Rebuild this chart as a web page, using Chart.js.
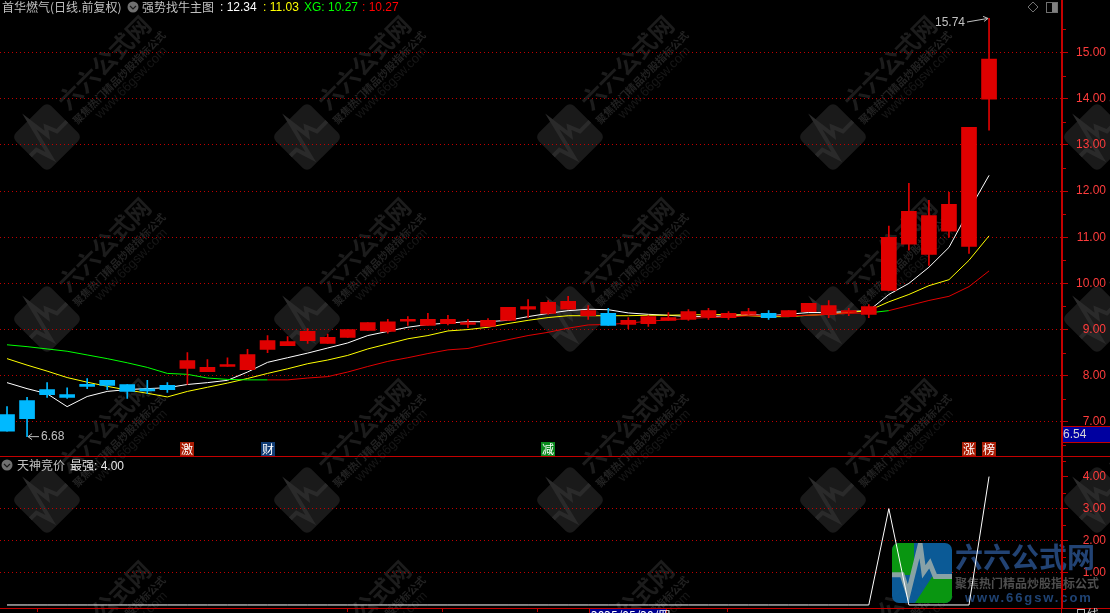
<!DOCTYPE html>
<html><head><meta charset="utf-8">
<style>
html,body{margin:0;padding:0;background:#000;width:1110px;height:613px;overflow:hidden}
#wrap{position:relative;width:1110px;height:613px}
canvas{position:absolute;left:0;top:0}
.t{position:absolute;white-space:nowrap;font:12px "Liberation Sans","Noto Sans CJK SC",sans-serif;line-height:14px}
.t span{font-family:"Noto Sans CJK SC",sans-serif}
</style>
<script src="https://cdn.jsdelivr.net/npm/chart.js@4/dist/chart.umd.min.js"></script>
</head><body><div id="wrap"><canvas id="c" width="1110" height="613"></canvas>
<div class="t" style="left:2px;top:0;color:#c0c0c0"><span>首华燃气(日线.前复权)</span></div>
<div class="t" style="left:142px;top:0;color:#c0c0c0"><span>强势找牛主图</span></div>
<div class="t" style="left:220px;top:0;color:#fff">:&nbsp;12.34</div>
<div class="t" style="left:263px;top:0;color:#ffff00">:&nbsp;11.03</div>
<div class="t" style="left:304px;top:0;color:#00ff00">XG:&nbsp;10.27</div>
<div class="t" style="left:362px;top:0;color:#ff0000">:&nbsp;10.27</div>
<div class="t" style="left:17px;top:458px;color:#c0c0c0"><span>天神竞价</span></div>
<div class="t" style="left:70px;top:458px;color:#e8e8e8"><span>最强</span>:&nbsp;4.00</div>
</div>
<script>
const idx = Array.from({length:50},(_,i)=>i);
const opens  = [7.16,7.46,7.70,7.59,7.81,7.90,7.81,7.70,7.79,8.16,8.09,8.20,8.13,8.57,8.65,8.76,8.70,8.83,8.98,8.96,9.18,9.09,9.13,9.11,9.07,9.20,9.44,9.35,9.44,9.30,9.35,9.11,9.13,9.20,9.22,9.28,9.26,9.33,9.35,9.28,9.39,9.33,9.37,9.33,9.85,10.85,10.63,11.13,10.80,13.99];
const closes = [6.80,7.07,7.59,7.53,7.77,7.79,7.66,7.67,7.70,8.33,8.18,8.24,8.46,8.76,8.74,8.96,8.83,9.00,9.15,9.17,9.21,9.22,9.22,9.15,9.20,9.48,9.50,9.59,9.61,9.41,9.09,9.20,9.28,9.26,9.39,9.41,9.35,9.39,9.26,9.41,9.57,9.52,9.38,9.50,11.00,11.56,11.47,11.71,13.38,14.86];
const highs  = [7.33,7.53,7.85,7.74,7.94,7.90,7.81,7.90,7.85,8.50,8.35,8.39,8.57,8.87,8.85,9.02,8.90,9.00,9.15,9.22,9.28,9.35,9.31,9.22,9.24,9.48,9.65,9.63,9.72,9.52,9.46,9.26,9.30,9.37,9.43,9.46,9.39,9.46,9.41,9.41,9.57,9.63,9.46,9.54,11.24,12.17,11.80,11.97,13.38,15.74];
const lows   = [6.80,6.68,7.53,7.51,7.72,7.70,7.51,7.61,7.64,7.81,8.09,8.20,8.13,8.50,8.65,8.70,8.70,8.83,8.98,8.92,9.09,9.09,9.10,9.04,9.07,9.20,9.26,9.33,9.44,9.22,9.09,9.02,9.07,9.20,9.20,9.22,9.22,9.33,9.22,9.28,9.39,9.26,9.30,9.26,9.85,10.72,10.39,11.00,10.65,13.32];
const whiteLine  = [7.85,7.72,7.61,7.33,7.55,7.66,7.70,7.72,7.74,7.81,7.85,7.90,8.08,8.29,8.39,8.49,8.60,8.71,8.87,8.96,9.05,9.11,9.14,9.17,9.17,9.20,9.28,9.35,9.41,9.44,9.43,9.36,9.33,9.31,9.28,9.28,9.30,9.33,9.30,9.33,9.37,9.37,9.39,9.41,9.76,10.00,10.35,10.78,11.58,12.34];
const yellowLine = [8.37,8.23,8.10,7.96,7.86,7.77,7.69,7.62,7.54,7.66,7.75,7.84,7.94,8.05,8.15,8.26,8.34,8.44,8.58,8.69,8.80,8.87,8.97,9.00,9.05,9.13,9.20,9.26,9.30,9.30,9.30,9.30,9.31,9.31,9.32,9.32,9.33,9.30,9.28,9.28,9.31,9.33,9.37,9.41,9.60,9.76,9.95,10.08,10.50,11.03];
const trendLine  = [8.67,8.63,8.58,8.53,8.45,8.37,8.28,8.18,8.05,8.03,7.95,7.92,7.91,7.91,7.91,7.95,7.98,8.08,8.20,8.31,8.39,8.48,8.56,8.59,8.69,8.78,8.87,8.94,9.03,9.10,9.11,9.14,9.18,9.21,9.24,9.26,9.27,9.30,9.30,9.30,9.31,9.33,9.35,9.36,9.41,9.52,9.63,9.72,9.93,10.27];
const trendGreenSegments = [0,1,2,3,4,5,6,7,8,9,10,11,12,43];
const strength = [0,0,0,0,0,0,0,0,0,0,0,0,0,0,0,0,0,0,0,0,0,0,0,0,0,0,0,0,0,0,0,0,0,0,0,0,0,0,0,0,0,0,0,0,3,0,0,0,0,4];
const mainTicks = [6.5,7,7.5,8,8.5,9,9.5,10,10.5,11,11.5,12,12.5,13,13.5,14,14.5,15,15.5];
const subTicks  = [0.5,1,1.5,2,2.5,3,3.5,4,4.5];
const signalIdx = [9,13,27,48,49];
const signalTxt = ['激','财','减','涨','榜'];
const signalCol = ['#a81c04','#103c74','#0a8a1e','#a81c04','#a81c04'];
const dateLabels = [['2025',8,'#ff3c3c',611],['4',350,'#ff3c3c',611],['5',730,'#ff3c3c',611],['日线',1075,'#c0c0c0',608]];
const dateCursor = '2025/05/20/四';
const dateTickX = [37,347,442,537,727];

const RED='#e00000', BLUE='#00b9ff', AXIS='#c40000', GRID='#c00000', LBL='#ff3c3c';
const candleColor = idx.map(i=>closes[i]>=opens[i]?RED:BLUE);
const CJK='"Noto Sans CJK SC",sans-serif', LAT='"Liberation Sans",sans-serif';

function pulse(ctx,x,y,s){
  const p=[[0,.53],[.17,.53],[.27,.84],[.47,.03],[.53,.48],[.63,.34],[.72,.56],[1,.56]];
  ctx.beginPath();p.forEach((q,i)=>{const X=x+q[0]*s,Y=y+q[1]*s;i?ctx.lineTo(X,Y):ctx.moveTo(X,Y);});ctx.stroke();
}
function watermark(ctx,cx,cy){
  ctx.save();ctx.translate(cx,cy);ctx.rotate(-Math.PI/4);
  ctx.fillStyle='#1a1a1a';ctx.beginPath();ctx.roundRect(-25,-25,50,50,6);ctx.fill();
  ctx.strokeStyle='#2a2a2a';ctx.lineWidth=4;
  pulse(ctx,-25,-25,50);
  ctx.textBaseline='alphabetic';ctx.textAlign='left';
  ctx.fillStyle='#1c1c1c';ctx.font='bold 24px '+CJK;ctx.fillText('六六公式网',33,-3);
  ctx.fillStyle='#222';ctx.font='bold 10.5px '+CJK;ctx.fillText('聚焦热门精品炒股指标公式',30,13);
  ctx.fillStyle='#171717';ctx.font='13px '+LAT;ctx.fillText('www.66gsw.com',50,25);
  ctx.restore();
}
function chevron(ctx,x,y){
  ctx.fillStyle='#707070';ctx.beginPath();ctx.arc(x,y,5.5,0,7);ctx.fill();
  ctx.strokeStyle='#1a1a1a';ctx.lineWidth=1.2;ctx.beginPath();ctx.moveTo(x-3,y-1);ctx.lineTo(x,y+2);ctx.lineTo(x+3,y-1);ctx.stroke();
}
const backdrop={id:'backdrop',beforeDraw(c){
  const ctx=c.ctx;ctx.save();ctx.fillStyle='#000';ctx.fillRect(0,0,c.width,c.height);
  [137,319,500,682].forEach(y=>[47,307,570,833,1097].forEach(x=>watermark(ctx,x,y)));
  ctx.restore();
},beforeDatasetsDraw(c){
  const ctx=c.ctx;ctx.save();
  ctx.globalAlpha=.95;
  ctx.save();ctx.beginPath();ctx.roundRect(892,543,60,60,7);ctx.clip();
  ctx.fillStyle='#0c5f9e';ctx.fillRect(892,543,60,60);
  ctx.fillStyle='#0a9a0a';ctx.fillRect(892,543,22,32);
  ctx.beginPath();ctx.moveTo(915,603);ctx.lineTo(932,577);ctx.lineTo(952,577);ctx.lineTo(952,603);ctx.closePath();ctx.fill();
  ctx.strokeStyle='#8fa5a8';ctx.lineWidth=5;pulse(ctx,892,543,60);ctx.restore();
  ctx.globalAlpha=.85;ctx.textAlign='left';ctx.textBaseline='alphabetic';
  ctx.fillStyle='#284f88';ctx.font='bold 28px '+CJK;ctx.fillText('六六公式网',955,568);
  ctx.fillStyle='#5c5c5c';ctx.font='bold 12px '+CJK;ctx.fillText('聚焦热门精品炒股指标公式',955,588);
  ctx.fillStyle='#254f88';ctx.font='bold 13px '+LAT;ctx.letterSpacing='1.9px';ctx.fillText('www.66gsw.com',965,602);ctx.letterSpacing='0px';
  ctx.restore();
}};
const overlay={id:'overlay',afterDraw(c){
  const ctx=c.ctx,xs=c.scales.x,y=c.scales.y,y2=c.scales.y2,A=c.chartArea;
  ctx.save();
  ctx.strokeStyle=AXIS;ctx.lineWidth=1;
  [[y,mainTicks],[y2,subTicks]].forEach(([s,t])=>t.forEach(v=>{if(v%1){const p=Math.round(s.getPixelForValue(v))+.5;
    ctx.beginPath();ctx.moveTo(A.right,p);ctx.lineTo(A.right+4,p);ctx.stroke();}}));
  ctx.fillStyle=AXIS;
  ctx.fillRect(0,456,1110,1);ctx.fillRect(0,608,1110,1);
  ctx.fillRect(1061,0,2,608);
  dateTickX.forEach(x=>ctx.fillRect(x,609,1,3));
  ctx.fillRect(1061,608,1,5);
  ctx.fillStyle='#000090';ctx.fillRect(589,609,78,4);
  ctx.fillStyle=AXIS;ctx.fillRect(589,609,1,4);ctx.fillRect(666,609,1,4);
  ctx.textBaseline='top';ctx.textAlign='left';
  ctx.fillStyle='#fff';ctx.font='12px '+CJK;ctx.fillText(dateCursor,591,609);
  dateLabels.forEach(d=>{ctx.fillStyle=d[2];ctx.fillText(d[0],d[1],d[3]);});
  signalIdx.forEach((k,i)=>{const px=Math.round(xs.getPixelForValue(k));
    ctx.fillStyle=signalCol[i];ctx.fillRect(px-7,442,14,14);
    ctx.fillStyle='#fff';ctx.font='12px '+CJK;ctx.textAlign='center';ctx.textBaseline='middle';ctx.fillText(signalTxt[i],px,449);});
  ctx.strokeStyle='#c0c0c0';ctx.fillStyle='#c0c0c0';ctx.lineWidth=1;ctx.font='12px '+LAT;ctx.textBaseline='middle';ctx.textAlign='left';
  const hx=xs.getPixelForValue(49)-1,hy=y.getPixelForValue(15.74);
  ctx.fillText('15.74',935,23);
  ctx.beginPath();ctx.moveTo(967,22);ctx.lineTo(hx,hy);ctx.moveTo(hx-5,hy-2);ctx.lineTo(hx,hy);ctx.lineTo(hx-4,hy+3);ctx.stroke();
  const lx=xs.getPixelForValue(1)+1,ly=y.getPixelForValue(6.68);
  ctx.fillText('6.68',41,ly);
  ctx.beginPath();ctx.moveTo(39,ly);ctx.lineTo(lx,ly);ctx.moveTo(lx+4,ly-3);ctx.lineTo(lx,ly);ctx.lineTo(lx+4,ly+3);ctx.stroke();
  ctx.fillStyle='#0000a0';ctx.fillRect(1063,427,47,15);
  ctx.fillStyle=AXIS;ctx.fillRect(1063,426,47,1);ctx.fillRect(1063,442,47,1);
  ctx.fillStyle='#d8d8d8';ctx.textAlign='left';ctx.fillText('6.54',1063,434.5);
  chevron(ctx,133,7);chevron(ctx,7,465);
  ctx.strokeStyle='#707070';ctx.lineWidth=1;
  ctx.beginPath();ctx.moveTo(1033,2);ctx.lineTo(1038,7);ctx.lineTo(1033,12);ctx.lineTo(1028,7);ctx.closePath();ctx.stroke();
  ctx.strokeRect(1046.5,2.5,11,10);ctx.fillStyle='#808080';ctx.fillRect(1052,3,5,9);
  ctx.restore();
}};
const yAxis=(weight,ticks,labelled,gridded,min,max)=>({
  type:'linear',position:'right',stack:'panes',stackWeight:weight,min,max,
  afterBuildTicks(s){s.ticks=ticks.map(v=>({value:v}));},
  afterFit(s){s.width=44;s.paddingTop=0;s.paddingBottom=0;},
  border:{display:false,dash:[1,3]},
  grid:{drawOnChartArea:true,drawTicks:true,tickLength:6,tickBorderDash:[],
    color:t=>gridded.includes(t.tick.value)?GRID:'transparent',
    tickColor:t=>labelled.includes(t.tick.value)?AXIS:'transparent',
    lineWidth:1},
  ticks:{color:LBL,font:{family:LAT,size:12},padding:0,crossAlign:'far',autoSkip:false,maxRotation:0,
    callback:v=>labelled.includes(v)?v.toFixed(2):''}
});
const ints=[7,8,9,10,11,12,13,14,15], subInts=[1,2,3,4];
new Chart(document.getElementById('c'),{
  data:{datasets:[
    {type:'bar',label:'body',order:0,yAxisID:'y',grouped:false,barThickness:15,minBarLength:2,backgroundColor:candleColor,
     data:idx.map(i=>({x:i,y:[opens[i],closes[i]]}))},
    {type:'bar',label:'wick',order:1,yAxisID:'y',grouped:false,barThickness:1,backgroundColor:candleColor,
     data:idx.map(i=>({x:i,y:[lows[i],highs[i]]}))},
    {type:'line',label:'trend',order:2,yAxisID:'y',borderWidth:1,pointRadius:0,tension:0,borderColor:RED,
     segment:{borderColor:s=>trendGreenSegments.includes(s.p0DataIndex)?'#00ff00':RED},
     data:idx.map(i=>({x:i,y:trendLine[i]}))},
    {type:'line',label:'yellow',order:3,yAxisID:'y',borderWidth:1,pointRadius:0,tension:0,borderColor:'#ffff00',
     data:idx.map(i=>({x:i,y:yellowLine[i]}))},
    {type:'line',label:'white',order:4,yAxisID:'y',borderWidth:1,pointRadius:0,tension:0,borderColor:'#ffffff',
     data:idx.map(i=>({x:i,y:whiteLine[i]}))},
    {type:'line',label:'最强',order:5,yAxisID:'y2',borderWidth:1,pointRadius:0,tension:0,borderColor:'#ffffff',
     data:idx.map(i=>({x:i,y:strength[i]}))}
  ]},
  options:{responsive:false,animation:false,devicePixelRatio:1,
    layout:{padding:{left:0,top:0,right:4,bottom:5}},
    plugins:{legend:{display:false},tooltip:{enabled:false}},
    scales:{
      x:{type:'linear',display:false,min:-0.35,max:52.64,offset:false,grid:{display:false}},
      y:yAxis(456.5,mainTicks,ints,ints,6.25,16.139),
      y2:yAxis(151.5,subTicks,subInts,[1,2,3],-0.094,4.625)
    }},
  plugins:[backdrop,overlay]
});
</script></body></html>
